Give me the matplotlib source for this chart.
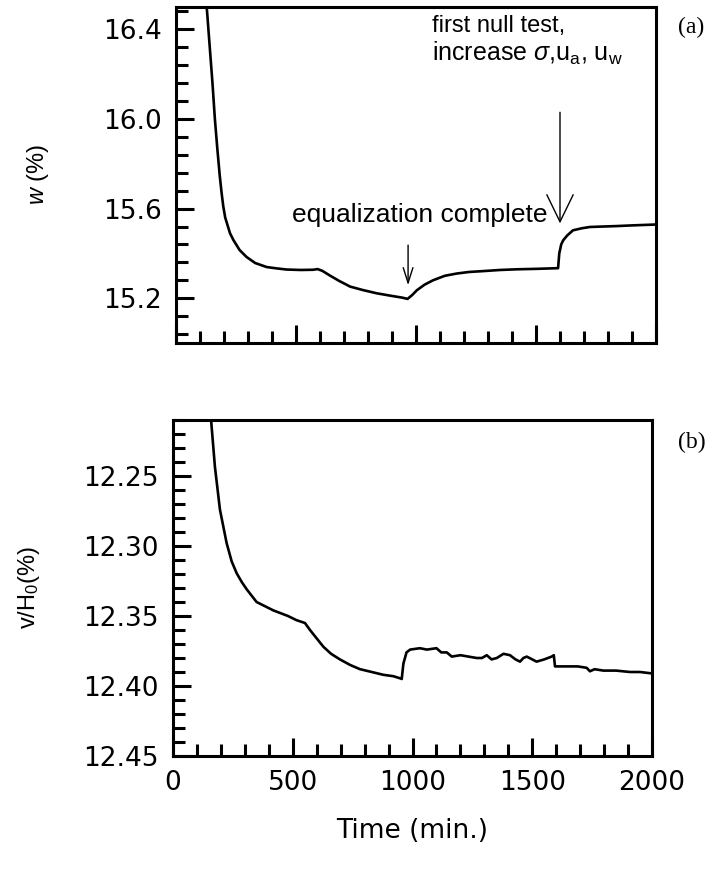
# -*- coding: utf-8 -*-

import numpy as np
import matplotlib
matplotlib.use('Agg')
import matplotlib.pyplot as plt
from matplotlib.ticker import MultipleLocator, FormatStrFormatter

plt.rcParams['font.family'] = ['DejaVu Sans']
plt.rcParams['mathtext.fontset'] = 'custom'
plt.rcParams['mathtext.rm'] = 'Liberation Sans'
plt.rcParams['mathtext.it'] = 'Liberation Sans:italic'
plt.rcParams['mathtext.bf'] = 'Liberation Sans:bold'

# Panel (a): water content w (%) against time (min.)
w_time = [128, 140, 152, 162, 172, 182, 190, 197, 205, 215, 225, 239, 265,
          294, 330, 378, 420, 461, 520, 572, 590, 610, 640, 680, 711, 725,
          780, 836, 900, 940, 965, 985, 1003, 1035, 1071, 1120, 1169, 1220,
          1280, 1350, 1420, 1500, 1592, 1597, 1605, 1613, 1630, 1654, 1690,
          1725, 1780, 1836, 1900, 2000]
w_vals = [16.50, 16.33, 16.16, 16.00, 15.87, 15.75, 15.67, 15.61, 15.56,
          15.525, 15.49, 15.46, 15.415, 15.384, 15.357, 15.339, 15.333,
          15.328, 15.326, 15.327, 15.33, 15.322, 15.302, 15.277, 15.26,
          15.252, 15.236, 15.222, 15.21, 15.203, 15.197, 15.215, 15.235,
          15.26, 15.28, 15.30, 15.31, 15.317, 15.321, 15.326, 15.329, 15.331,
          15.334, 15.40, 15.44, 15.458, 15.48, 15.503, 15.512, 15.518, 15.52,
          15.522, 15.525, 15.529]

# Panel (b): settlement v/H0 (%) against time (min.)
v_time = [159, 175, 196, 224, 245, 266, 288, 308, 349, 419, 480, 516, 551,
          572, 600, 628, 660, 697, 740, 781, 830, 878, 920, 948, 955, 962,
          975, 990, 1031, 1060, 1100, 1120, 1143, 1164, 1200, 1268, 1290,
          1310, 1330, 1352, 1380, 1407, 1430, 1449, 1463, 1477, 1500, 1518,
          1550, 1581, 1590, 1595, 1640, 1690, 1727, 1741, 1760, 1797, 1850,
          1908, 1950, 1999]
v_vals = [12.210, 12.2434, 12.274, 12.298, 12.311, 12.3195, 12.326, 12.331,
          12.340, 12.346, 12.350, 12.353, 12.355, 12.360, 12.366, 12.372,
          12.377, 12.381, 12.385, 12.388, 12.390, 12.392, 12.393, 12.3945,
          12.395, 12.384, 12.376, 12.374, 12.373, 12.374, 12.373, 12.376,
          12.376, 12.379, 12.378, 12.380, 12.380, 12.378, 12.381, 12.380,
          12.377, 12.378, 12.381, 12.3826, 12.380, 12.379, 12.381, 12.3826,
          12.381, 12.379, 12.378, 12.386, 12.386, 12.386, 12.387, 12.3895,
          12.388, 12.389, 12.389, 12.390, 12.390, 12.391]

fs_tick = 19
fs_note = 17
lw_axes = 2.2
lw_line = 1.9

fig = plt.figure(figsize=(7.07, 8.73), dpi=100)
ax1 = fig.add_axes([176 / 707., 1 - 343 / 873., 480 / 707., 336 / 873.])
ax2 = fig.add_axes([173 / 707., 1 - 756 / 873., 479 / 707., 336 / 873.])

for ax in (ax1, ax2):
    for sp in ax.spines.values():
        sp.set_linewidth(lw_axes)
    ax.set_xlim(0, 2000)
    ax.xaxis.set_major_locator(MultipleLocator(500))
    ax.xaxis.set_minor_locator(MultipleLocator(100))
    ax.tick_params(which='both', direction='in', top=False, right=False,
                   width=lw_axes, labelsize=fs_tick)
    ax.tick_params(which='major', length=13, pad=10)
    ax.tick_params(which='minor', length=8.5)

# Top panel
ax1.plot(w_time, w_vals, color='black', lw=lw_line)
ax1.set_ylim(15.0, 16.5)
ax1.yaxis.set_major_locator(MultipleLocator(0.4))
ax1.yaxis.set_minor_locator(MultipleLocator(0.08))
ax1.yaxis.set_major_formatter(FormatStrFormatter('%.1f'))
ax1.tick_params(axis='x', labelbottom=False)
ax1.set_ylabel(r'$w$ (%)', fontsize=fs_note, family='Liberation Sans')
ax1.yaxis.set_label_coords(-0.26, 0.5)

ax1.annotate('', xy=(967, 15.258), xytext=(967, 15.437),
             arrowprops=dict(arrowstyle='->,head_length=1.1,head_width=0.35',
                             lw=1.0, color='black', mutation_scale=10,
                             shrinkA=0, shrinkB=0))
ax1.text(483, 15.54, 'equalization complete', fontsize=19,
         family='Liberation Sans', ha='left', va='baseline')
ax1.annotate('', xy=(1600, 15.534), xytext=(1600, 16.03),
             arrowprops=dict(arrowstyle='->,head_length=1.95,head_width=0.95',
                             lw=1.0, color='black', mutation_scale=10,
                             shrinkA=0, shrinkB=0))
ax1.text(1067, 16.39, 'first null test,', fontsize=fs_note,
         family='Liberation Sans', ha='left', va='baseline')
ax1.text(1067, 16.262, r'increase $\sigma$,u$_{\rm a}$, u$_{\rm w}$',
         fontsize=fs_note + 1, family='Liberation Sans', ha='left',
         va='baseline')

# Bottom panel
ax2.plot(v_time, v_vals, color='black', lw=lw_line)
ax2.set_ylim(12.45, 12.21)
ax2.yaxis.set_major_locator(MultipleLocator(0.05))
ax2.yaxis.set_minor_locator(MultipleLocator(0.01))
ax2.yaxis.set_major_formatter(FormatStrFormatter('%.2f'))
ax2.set_ylabel(r'v/H$_0$(%)', fontsize=fs_note, family='Liberation Sans')
ax2.yaxis.set_label_coords(-0.273, 0.5)
ax2.set_xlabel('Time (min.)', fontsize=fs_tick, labelpad=16)

fig.text(678 / 707., 1 - 27 / 873., '(a)', fontsize=fs_note,
         family='Liberation Serif', ha='left', va='center')
fig.text(678 / 707., 1 - 442 / 873., '(b)', fontsize=fs_note,
         family='Liberation Serif', ha='left', va='center')

fig.savefig('out.png', dpi=100)
